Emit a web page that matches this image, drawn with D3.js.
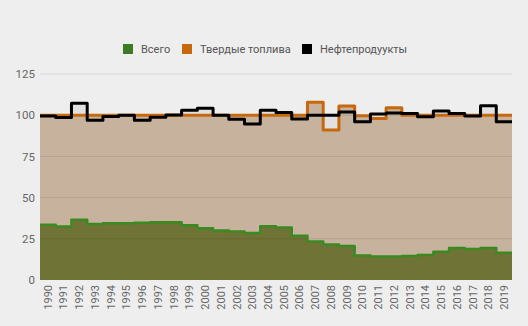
<!DOCTYPE html>
<html>
<head>
<meta charset="utf-8">
<script src="https://cdn.jsdelivr.net/npm/d3@7"></script>
<style>
  html, body { margin: 0; padding: 0; background: #eeeeee; }
  svg { display: block; font-family: Roboto, "Noto Sans", sans-serif; }
</style>
</head>
<body>
<svg id="chart" width="528" height="326"></svg>
<script>
// Years on the x axis
const years = d3.range(1990, 2020).map(String);

// Index values (1990 = 100)
const total = [33.5, 32.5, 36.5, 34, 34.5, 34.5, 34.8, 35, 35, 33.2,
               31.4, 30, 29.5, 28.5, 32.6, 31.8, 26.8, 23.3, 21.6, 20.6,
               14.8, 14.2, 14.2, 14.5, 15.2, 17.2, 19.4, 18.8, 19.4, 16.6];
const solidFuels = [100, 100, 100, 100, 100, 100, 100, 100, 100, 100,
                    100, 100, 100, 100, 100, 100, 100, 107.8, 91, 105.6,
                    99.6, 98, 104.5, 100, 100, 100, 100, 100, 100, 100];
const petroleum = [99.5, 98.6, 107.2, 97, 99.2, 100, 96.9, 98.7, 100.1, 103,
                   104.2, 100, 97.5, 94.7, 103, 101.7, 97.7, 100, 100, 102,
                   96, 100.8, 101.4, 101, 99, 102.6, 101, 99.5, 105.8, 96];

const yTicks = [0, 25, 50, 75, 100, 125];

const seriesNames = ["Всего", "Твердые топлива", "Нефтепродуукты"];
const seriesColors = ["#3d7b22", "#c8680c", "#000000"];

const svg = d3.select("#chart");
const margin = { left: 40, right: 16, top: 74, bottom: 46 };
const W = 528, H = 326;

const x = d3.scaleBand().domain(years).range([margin.left, W - margin.right]).padding(0);
const y = d3.scaleLinear().domain([0, 125]).range([H - margin.bottom, margin.top]);

// Y axis labels
const yAxis = d3.axisLeft(y).tickValues(yTicks).tickSize(0).tickPadding(5);
svg.append("g")
  .attr("transform", `translate(${margin.left},0)`)
  .call(yAxis)
  .call(g => g.select(".domain").remove())
  .call(g => g.selectAll("text")
    .attr("fill", "#666")
    .attr("font-size", 11.5)
    .attr("font-family", "Roboto, sans-serif"));

// X axis labels (rotated)
const xAxis = d3.axisBottom(x).tickSize(0).tickPadding(0);
svg.append("g")
  .attr("transform", `translate(0,${H - margin.bottom})`)
  .call(xAxis)
  .call(g => g.select(".domain").remove())
  .call(g => g.selectAll("text")
    .attr("fill", "#666")
    .attr("font-size", 11)
    .attr("font-family", "Roboto, sans-serif")
    .attr("text-anchor", "end")
    .attr("dy", "0.35em")
    .attr("transform", "translate(0,5) rotate(-90)")
    .attr("x", 0)
    .attr("y", 0));

// Step points: each year spans its whole band
function stepPoints(values) {
  const pts = values.map((v, i) => [x(years[i]), v]);
  const last = years.length - 1;
  pts.push([x(years[last]) + x.bandwidth(), values[last]]);
  return pts;
}

const area = d3.area()
  .x(d => d[0])
  .y0(y(0))
  .y1(d => y(d[1]))
  .curve(d3.curveStepAfter);

const line = d3.line()
  .x(d => d[0])
  .y(d => y(d[1]))
  .curve(d3.curveStepAfter);

// Areas
svg.append("path")
  .datum(stepPoints(petroleum))
  .attr("d", area)
  .attr("fill", "rgba(0,0,0,0.05)");

svg.append("path")
  .datum(stepPoints(solidFuels))
  .attr("d", area)
  .attr("fill", "#c6b29d");

svg.append("path")
  .datum(stepPoints(total))
  .attr("d", area)
  .attr("fill", "#707336");

// Gridlines, drawn over the fills so they show through faintly
svg.append("g")
  .selectAll("line")
  .data(yTicks.filter(d => d > 0))
  .join("line")
  .attr("x1", margin.left)
  .attr("x2", W - margin.right)
  .attr("y1", d => y(d))
  .attr("y2", d => y(d))
  .attr("stroke", "rgba(0,0,0,0.09)")
  .attr("stroke-width", 1);

// Lines
svg.append("path")
  .datum(stepPoints(total))
  .attr("d", line)
  .attr("fill", "none")
  .attr("stroke", "#3a8a22")
  .attr("stroke-width", 2.5)
  .attr("stroke-linejoin", "round");

svg.append("path")
  .datum(stepPoints(solidFuels))
  .attr("d", line)
  .attr("fill", "none")
  .attr("stroke", seriesColors[1])
  .attr("stroke-width", 3)
  .attr("stroke-linejoin", "round");

svg.append("path")
  .datum(stepPoints(petroleum))
  .attr("d", line)
  .attr("fill", "none")
  .attr("stroke", seriesColors[2])
  .attr("stroke-width", 3)
  .attr("stroke-linejoin", "round");

// Legend
const legendX = [123, 182, 302];
const legend = svg.append("g");
seriesNames.forEach((name, i) => {
  const g = legend.append("g").attr("transform", `translate(${legendX[i]},44)`);
  g.append("rect")
    .attr("width", 10).attr("height", 10)
    .attr("fill", seriesColors[i]);
  g.append("text")
    .attr("x", 18).attr("y", 5)
    .attr("dy", "0.35em")
    .attr("font-size", 11)
    .attr("fill", "#555")
    .text(name);
});
</script>
</body>
</html>
